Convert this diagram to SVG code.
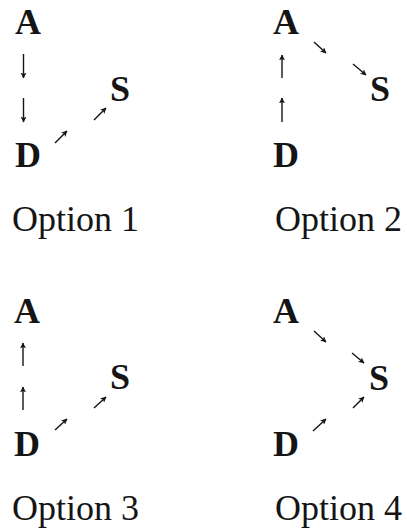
<svg xmlns="http://www.w3.org/2000/svg" width="407" height="529" viewBox="0 0 407 529">
<style>
.n{font-family:"Liberation Serif","Times New Roman",serif;font-weight:bold;font-size:36px;fill:#151515}
.l{font-family:"Liberation Serif","Times New Roman",serif;font-size:36px;fill:#151515}
.a{stroke:#151515;stroke-width:1.4;fill:none;marker-end:url(#h)}
</style>
<defs>
<marker id="h" viewBox="0 0 10 10" refX="9" refY="5" markerWidth="4.3" markerHeight="4.3" markerUnits="strokeWidth" orient="auto">
<path d="M0,0 L10,5 L0,10 L2.5,5 Z" fill="#151515"/>
</marker>
</defs>
<rect width="407" height="529" fill="#fff"/>
<g id="opt1">
<g id="o1-A"><text class="n" x="15" y="34">A</text></g>
<g id="o1-D"><text class="n" x="15" y="167">D</text></g>
<g id="o1-S"><text class="n" x="110" y="101">S</text></g>
<text class="l" x="12" y="231">Option 1</text>
</g>
<g id="opt2">
<g id="o2-A"><text class="n" x="273" y="34">A</text></g>
<g id="o2-D"><text class="n" x="273" y="167">D</text></g>
<g id="o2-S"><text class="n" x="370" y="101">S</text></g>
<text class="l" x="275" y="231">Option 2</text>
</g>
<g id="opt3">
<g id="o3-A"><text class="n" x="14" y="323">A</text></g>
<g id="o3-D"><text class="n" x="14" y="456">D</text></g>
<g id="o3-S"><text class="n" x="110" y="389">S</text></g>
<text class="l" x="12" y="520">Option 3</text>
</g>
<g id="opt4">
<g id="o4-A"><text class="n" x="273" y="323">A</text></g>
<g id="o4-D"><text class="n" x="273" y="456">D</text></g>
<g id="o4-S"><text class="n" x="369" y="390">S</text></g>
<text class="l" x="275" y="520">Option 4</text>
</g>
<g id="connectors">
<path class="a" d="M23.5,54 V78"/>
<path class="a" d="M23.5,98 V122"/>
<path class="a" d="M55,143 L67,131"/>
<path class="a" d="M94,120 L106,108"/>
<path class="a" d="M282,78 V55"/>
<path class="a" d="M282,122 V98"/>
<path class="a" d="M314,42 L326,53"/>
<path class="a" d="M353,64 L366,75"/>
<path class="a" d="M23,366 V343"/>
<path class="a" d="M23,410 V387"/>
<path class="a" d="M55,430 L67,419"/>
<path class="a" d="M94,408 L106,397"/>
<path class="a" d="M314,331 L326,342"/>
<path class="a" d="M352,353 L364,363"/>
<path class="a" d="M313,431 L326,419"/>
<path class="a" d="M353,408 L364,397"/>
</g>
</svg>
